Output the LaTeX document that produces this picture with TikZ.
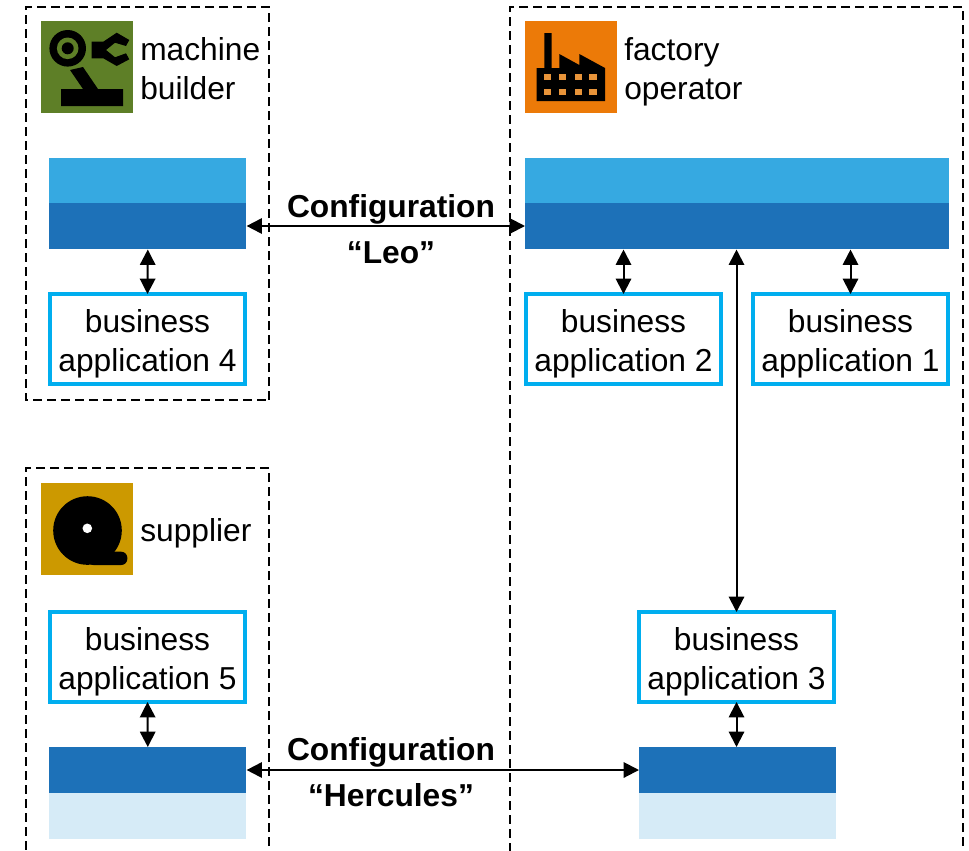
\documentclass[tikz,border=0pt]{standalone}
\usepackage{fontspec}
\setmainfont{Liberation Sans}
\usetikzlibrary{arrows.meta}
\definecolor{lightbar}{HTML}{36A9E1}
\definecolor{darkbar}{HTML}{1D71B8}
\definecolor{palebar}{HTML}{D6EBF7}
\definecolor{appline}{HTML}{00AEEF}
\definecolor{ciolive}{HTML}{5E7F27}
\definecolor{ciorange}{HTML}{EC7A08}
\definecolor{ciwin}{HTML}{E8943A}
\definecolor{cigold}{HTML}{CC9900}
\newcommand{\apptop}{\rule{0pt}{25pt}}
\tikzset{
 x=0.75pt,y=-0.75pt,
 party/.style={draw=black,line width=1.2pt,dash pattern=on 7pt off 3.5pt},
 appbox/.style={draw=appline,line width=3pt,fill=white,outer sep=0pt,minimum width=146pt,minimum height=67.5pt,inner sep=0pt,align=center,font=\fontsize{23.8}{29.2}\selectfont},
 lab/.style={anchor=west,inner sep=0pt,align=left,font=\fontsize{23.8}{29.2}\selectfont},
 cfg/.style={inner sep=0pt,font=\fontsize{23.8}{29.2}\selectfont\bfseries},
 bar/.style={inner sep=0pt,minimum width=147.8pt,minimum height=34.5pt},
 wide/.style={inner sep=0pt,minimum width=318pt,minimum height=34.5pt},
 link/.style={line width=1.5pt,{Stealth[length=11.5pt,width=11.5pt,inset=0pt]}-{Stealth[length=11.5pt,width=11.5pt,inset=0pt]}},
 icon/.style={inner sep=0pt,minimum size=69pt},
}
\begin{document}
\begin{tikzpicture}
\useasboundingbox (0,0) rectangle (969,850);
\clip (0,0) rectangle (969,850);
% party frames
\draw[party] (269,400) -- (269,7) -- (26,7) -- (26,400) -- cycle;
\draw[party] (963,860) -- (963,7) -- (510,7) -- (510,860);
\draw[party] (269,860) -- (269,468) -- (26,468) -- (26,860);
% icons
\node[icon,fill=ciolive] (iconm) at (87,67.3) {};
\node[icon,fill=ciorange] (iconf) at (571,67.3) {};
\node[icon,fill=cigold] (icons) at (87,528.5) {};
% machine icon
\fill[black] (67.7,48.3) circle (18.3);
\fill[ciolive] (67.7,48.3) circle (10.8);
\fill[black] (67.7,48.3) circle (6);
\fill[black] (70,70) -- (83,67) -- (98,89) -- (123,89) -- (123,106) -- (61,106) -- (61,89) -- (83,89) -- cycle;
\fill[black] (91.7,41.7) -- (103.3,41.7) -- (116.7,32.7) -- (129.3,40) -- (126,46) -- (115,42.7) -- (106,50) -- (115,57.3) -- (126,53.3) -- (129.3,59.3) -- (116.7,66) -- (103.3,58.3) -- (91.7,58.3) -- cycle;
% factory icon
\fill[black] (536.7,68) -- (544.3,68) -- (544.3,33) -- (551.7,33) -- (551.7,68) -- (559.3,68) -- (559.3,54) -- (579.3,65) -- (579.3,54) -- (605,68) -- (605,101) -- (536.7,101) -- cycle;
\foreach \cx in {547.7,562.3,578.3,593}{\foreach \cy in {77.3,92}{\fill[ciwin] (\cx-3.6,\cy-3) rectangle (\cx+3.6,\cy+3);}}
% reel icon
\fill[black] (87.5,530.5) circle (34.3);
\fill[black,rounded corners=4.5pt] (87.5,551.7) rectangle (127.3,565);
\fill[white] (87.3,528.3) circle (4.8);
% bars
\node[bar,fill=lightbar,anchor=north west] (mtop) at (49,158) {};
\node[bar,fill=darkbar,anchor=north west] (mbot) at (49,203) {};
\node[wide,fill=lightbar,anchor=north west] (ftop) at (525,158) {};
\node[wide,fill=darkbar,anchor=north west] (fbot) at (525,203) {};
\node[bar,fill=darkbar,anchor=north west] (sbot) at (49,747) {};
\node[bar,fill=palebar,anchor=north west] (spale) at (49,793) {};
\node[bar,fill=darkbar,anchor=north west] (obot) at (639,747) {};
\node[bar,fill=palebar,anchor=north west] (opale) at (639,793) {};
% apps
\node[appbox] (a4) at (147.5,339) {\apptop business\\application 4};
\node[appbox] (a2) at (623.5,339) {\apptop business\\application 2};
\node[appbox] (a1) at (850.5,339) {\apptop business\\application 1};
\node[appbox] (a3) at (736.5,657) {\apptop business\\application 3};
\node[appbox] (a5) at (147.5,657) {\apptop business\\application 5};
% labels
\node[lab] (lm) at (140,69) {machine\\builder};
\node[lab] (lf) at (624,72) {factory\\operator};
\node[lab] (ls) at (140,533) {supplier};
\node[cfg] (c1) at (391,209) {Configuration};
\node[cfg] (c1b) at (391,253) {“Leo”};
\node[cfg] (c2) at (391,752) {Configuration};
\node[cfg] (c2b) at (391,795) {“Hercules”};
% connectors
\draw[link] (mbot.east |- 0,226) -- (fbot.west |- 0,226);
\draw[link] (sbot.east |- 0,770) -- (obot.west |- 0,770);
\draw[link] (mbot.south) -- (a4.north);
\draw[link] (a5.south) -- (sbot.north);
\draw[link] (a3.south) -- (obot.north -| a3.south);
\draw[link] (fbot.south -| a2.north) -- (a2.north);
\draw[link] (fbot.south -| a1.north) -- (a1.north);
\draw[link] (fbot.south -| a3.north) -- (a3.north);
\end{tikzpicture}
\end{document}
